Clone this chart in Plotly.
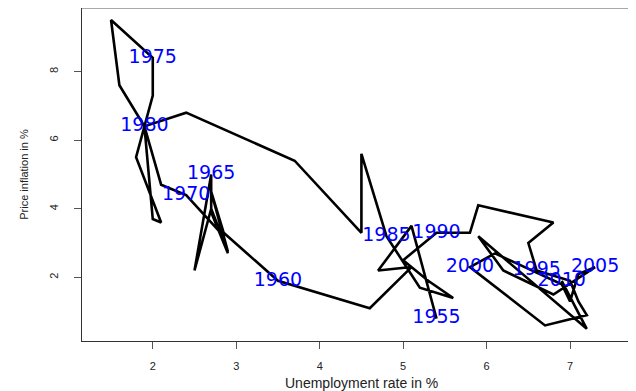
import plotly.graph_objects as go

years = list(range(1955, 2011))
unemployment = [
    5.4, 5.1, 4.7, 5.1, 4.6,            # 1955-1959
    3.5, 2.85, 2.7, 2.9, 2.7,           # 1960-1964
    2.7, 2.5, 2.7, 2.9, 2.85,           # 1965-1969
    2.4, 2.1, 1.9, 1.6, 1.5,            # 1970-1974
    2.0, 2.0, 1.8, 2.1, 2.0,            # 1975-1979
    1.9, 2.4, 3.7, 4.5, 4.5,            # 1980-1984
    4.8, 5.2, 5.6, 5.3, 5.0,            # 1985-1989
    5.4, 5.8, 5.9, 6.8, 6.5,            # 1990-1994
    6.6, 7.0, 7.1, 7.2, 6.7,            # 1995-1999
    5.8, 6.1, 6.9, 7.0, 7.1,            # 2000-2004
    7.3, 6.8, 6.2, 5.9, 7.2,            # 2005-2009
    6.9,                                # 2010
]
inflation = [
    0.8, 3.5, 2.2, 2.3, 1.1,
    1.9, 3.3, 4.5, 2.7, 3.9,
    5.0, 2.2, 4.0, 2.75, 3.2,
    4.4, 4.7, 6.4, 7.6, 9.5,
    8.4, 7.3, 5.5, 3.6, 3.7,
    6.4, 6.8, 5.4, 3.3, 5.6,
    3.2, 1.7, 1.4, 1.9, 2.5,
    3.3, 3.3, 4.1, 3.6, 3.0,
    2.2, 1.9, 1.3, 0.9, 0.6,
    2.3, 2.7, 1.8, 1.3, 2.1,
    2.3, 1.5, 2.2, 3.2, 0.5,
    1.9,
]
label_years = [1955, 1960, 1965, 1970, 1975, 1980, 1985, 1990, 1995, 2000, 2005, 2010]
x_ticks = [2, 3, 4, 5, 6, 7]
y_ticks = [2, 4, 6, 8]

lab_x = [unemployment[years.index(y)] for y in label_years]
lab_y = [inflation[years.index(y)] for y in label_years]

fig = go.Figure()
fig.add_trace(go.Scatter(
    x=unemployment, y=inflation, mode="lines",
    line=dict(color="black", width=2.6), hoverinfo="skip", showlegend=False,
))
fig.add_trace(go.Scatter(
    x=lab_x, y=lab_y, mode="text", text=[str(y) for y in label_years],
    textposition="middle center",
    textfont=dict(family="DejaVu Sans", size=19, color="#0000FF"),
    hoverinfo="skip", showlegend=False,
))

axis_font = dict(family="Liberation Sans, Arial, sans-serif", size=11, color="#222")
fig.update_layout(
    width=628, height=383,
    margin=dict(l=74, r=0, t=0, b=50),
    paper_bgcolor="white", plot_bgcolor="white",
    xaxis=dict(range=[1.152, 7.79], tickvals=x_ticks, ticks="outside", ticklen=7,
               tickcolor="#555", showline=True, linecolor="#333", linewidth=1,
               showgrid=False, zeroline=False, tickfont=axis_font,
               ticklabelstandoff=8),
    yaxis=dict(range=[0.146, 9.85], tickvals=y_ticks, ticks="outside", ticklen=7,
               tickcolor="#555", showline=True, linecolor="#333", linewidth=1,
               showgrid=False, zeroline=False, tickfont=axis_font, tickangle=-90,
               ticklabelstandoff=12),
    shapes=[dict(type="line", xref="paper", yref="paper", x0=0, x1=1, y0=1, y1=1,
                 line=dict(color="#555", width=1))],
    annotations=[
        dict(text="Unemployment rate in %", xref="paper", yref="paper",
             x=0.505, y=-0.125, xanchor="center", yanchor="middle", showarrow=False,
             font=dict(family="Liberation Sans, Arial, sans-serif", size=14, color="#222")),
        dict(text="Price inflation in %", xref="paper", yref="paper",
             x=-0.106, y=0.5, xanchor="center", yanchor="middle", showarrow=False,
             textangle=-90,
             font=dict(family="Liberation Sans, Arial, sans-serif", size=11, color="#222")),
    ],
)

fig.write_html("out.html")
